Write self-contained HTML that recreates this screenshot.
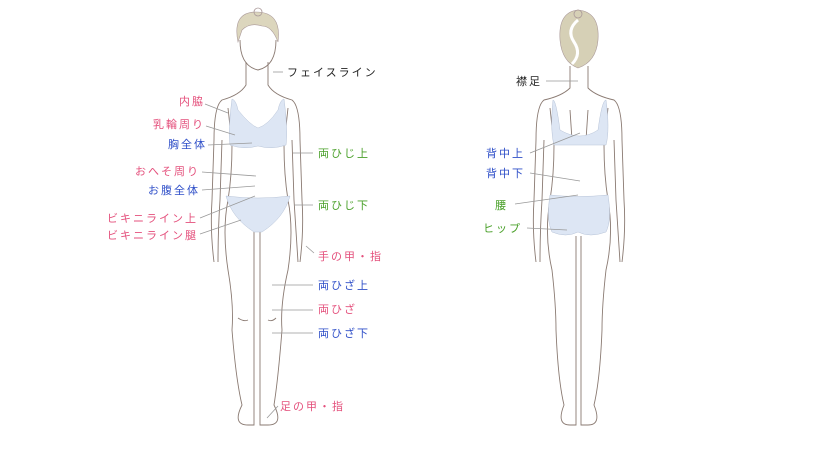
<!DOCTYPE html>
<html><head><meta charset="utf-8"><style>
body{margin:0;background:#fff;width:820px;height:450px;overflow:hidden}
svg text{font-family:"Liberation Sans","Noto Sans CJK JP",sans-serif;font-size:11px;letter-spacing:2px}
.p{fill:#e4507c}.b{fill:#2f4fc8}.g{fill:#4aa02a}.k{fill:#222}
.o{fill:none;stroke:#8a7a72;stroke-width:0.9}
.l{stroke:#999;stroke-width:0.8}
</style></head><body>
<svg width="820" height="450" xmlns="http://www.w3.org/2000/svg">
<!-- FRONT FIGURE -->
<path class="o" d="M240,40 Q240,66 258,70 Q276,66 276,40" fill="#fff"/>
<path d="M238,42 Q232,12 256,12 Q282,12 278,42 Q272,26 262,26 Q250,22 242,30 Q240,36 238,42Z" fill="#dcd6bd" stroke="#a99" stroke-width="0.6"/>
<circle cx="258" cy="12" r="4" fill="none" stroke="#a99" stroke-width="0.8"/>
<path class="o" d="M246,62 L246,85 Q240,95 222,100 Q214,106 214,140 L212,200 Q210,230 214,262 M268,62 L268,85 Q274,95 292,100 Q300,106 300,140 L302,200 Q304,230 300,262"/>
<path class="o" d="M222,140 L220,200 Q218,230 218,262 M292,140 L294,200 Q296,230 298,262"/>
<path class="o" d="M228,108 L232,145 Q232,175 228,200 Q222,230 228,270 Q234,305 232,330 Q236,380 242,405 Q232,425 248,425 L254,425 L254,232 M288,108 L284,145 Q284,175 288,200 Q294,230 288,270 Q280,305 282,330 Q278,380 274,405 Q284,425 268,425 L260,425 L260,232"/>
<path class="o" d="M238,318 Q244,322 248,320 M268,320 Q272,322 276,318"/>
<path d="M232,99 Q236,100 238,110 Q250,125 258,128 Q268,125 278,110 Q280,100 284,99 Q288,130 286,145 Q272,150 258,146 Q244,150 230,145 Q228,130 232,99Z" fill="#dde6f4" stroke="#b8c4d8" stroke-width="0.5"/>
<path d="M226,196 Q258,200 290,196 Q284,218 262,232 L254,232 Q232,218 226,196Z" fill="#dde6f4" stroke="#b8c4d8" stroke-width="0.5"/>
<!-- BACK FIGURE -->
<path d="M560,40 Q558,12 578,10 Q600,12 598,40 Q596,62 578,68 Q562,62 560,40Z" fill="#d6d0b6" stroke="#a99" stroke-width="0.6"/>
<path d="M578,20 Q566,30 574,42 Q582,54 572,64" fill="none" stroke="#fff" stroke-width="3"/>
<circle cx="578" cy="14" r="4" fill="none" stroke="#a99" stroke-width="0.8"/>
<path class="o" d="M570,66 L570,88 Q562,96 544,100 Q536,106 536,140 L534,200 Q532,230 536,262 M588,66 L588,88 Q596,96 614,100 Q622,106 622,140 L624,200 Q626,230 622,262"/>
<path class="o" d="M544,140 L542,200 Q540,230 540,262 M614,140 L616,200 Q618,230 620,262"/>
<path class="o" d="M550,108 L554,145 Q554,175 550,200 Q544,235 552,270 Q556,305 556,330 Q558,380 564,405 Q556,425 570,425 L576,425 L576,236 M608,108 L604,145 Q604,175 608,200 Q614,235 606,270 Q602,305 602,330 Q600,380 594,405 Q602,425 588,425 L581,425 L581,236"/>
<path class="o" d="M570,110 L572,140 M588,110 L586,140"/>
<path d="M553,100 Q556,100 560,130 Q580,142 598,130 Q602,100 606,100 Q610,130 606,145 L554,145 Q550,130 553,100Z" fill="#dde6f4" stroke="#b8c4d8" stroke-width="0.5"/>
<path d="M550,195 Q578,198 608,195 Q612,220 606,232 Q590,238 578,232 Q566,238 552,232 Q546,220 550,195Z" fill="#dde6f4" stroke="#b8c4d8" stroke-width="0.5"/>
<!-- leader lines -->
<g class="l">
<line x1="273" y1="72" x2="283" y2="72"/>
<line x1="205" y1="104" x2="228" y2="113"/>
<line x1="206" y1="126" x2="235" y2="135"/>
<line x1="208" y1="145" x2="252" y2="143"/>
<line x1="202" y1="172" x2="256" y2="176"/>
<line x1="202" y1="190" x2="255" y2="186"/>
<line x1="200" y1="218" x2="255" y2="196"/>
<line x1="200" y1="234" x2="241" y2="220"/>
<line x1="293" y1="153" x2="313" y2="153"/>
<line x1="294" y1="205" x2="313" y2="205"/>
<line x1="306" y1="246" x2="314" y2="253"/>
<line x1="272" y1="285" x2="313" y2="285"/>
<line x1="272" y1="310" x2="313" y2="310"/>
<line x1="272" y1="333" x2="313" y2="333"/>
<line x1="267" y1="418" x2="278" y2="406"/>
<line x1="546" y1="81" x2="578" y2="81"/>
<line x1="530" y1="153" x2="580" y2="133"/>
<line x1="530" y1="173" x2="580" y2="181"/>
<line x1="515" y1="204" x2="578" y2="195"/>
<line x1="527" y1="228" x2="567" y2="230"/>
</g>
<!-- labels -->
<text class="k" x="287" y="76">フェイスライン</text>
<text class="p" x="205" y="105" text-anchor="end">内脇</text>
<text class="p" x="205" y="128" text-anchor="end">乳輪周り</text>
<text class="b" x="207" y="148" text-anchor="end">胸全体</text>
<text class="p" x="200" y="175" text-anchor="end">おへそ周り</text>
<text class="b" x="200" y="194" text-anchor="end">お腹全体</text>
<text class="p" x="198" y="222" text-anchor="end">ビキニライン上</text>
<text class="p" x="198" y="239" text-anchor="end">ビキニライン腿</text>
<text class="g" x="318" y="157">両ひじ上</text>
<text class="g" x="318" y="209">両ひじ下</text>
<text class="p" x="318" y="260">手の甲・指</text>
<text class="b" x="318" y="289">両ひざ上</text>
<text class="p" x="318" y="313">両ひざ</text>
<text class="b" x="318" y="337">両ひざ下</text>
<text class="p" x="280" y="410">足の甲・指</text>
<text class="k" x="542" y="85" text-anchor="end">襟足</text>
<text class="b" x="525" y="157" text-anchor="end">背中上</text>
<text class="b" x="525" y="177" text-anchor="end">背中下</text>
<text class="g" x="508" y="209" text-anchor="end">腰</text>
<text class="g" x="522" y="232" text-anchor="end">ヒップ</text>
</svg>
</body></html>
